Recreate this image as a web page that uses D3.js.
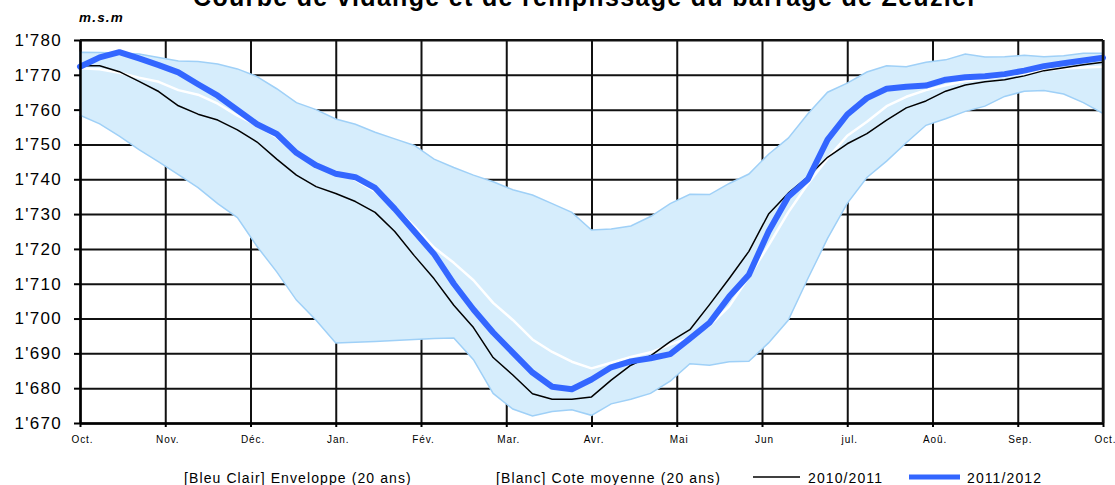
<!DOCTYPE html>
<html><head><meta charset="utf-8">
<script src="https://cdn.jsdelivr.net/npm/d3@7"></script>
<style>
body{margin:0;background:#fff}
svg{display:block;font-family:"Liberation Sans",Arial,sans-serif}
</style>
</head><body>
<svg id="c" width="1115" height="485"></svg>
<script>
// ---------- DATA ----------
const monthLabels = ["Oct.","Nov.","Déc.","Jan.","Fév.","Mar.","Avr.","Mai","Jun","jul.","Aoû.","Sep.","Oct."];
const yTicks = [1670,1680,1690,1700,1710,1720,1730,1740,1750,1760,1770,1780];
// weekly samples (53 points, Oct -> Oct)
const envUpper = [1776.5,1776.4,1776.3,1776.0,1775.0,1774.0,1773.8,1773.1,1771.7,1769.5,1766.0,1762.0,1760.0,1757.3,1755.8,1753.5,1751.6,1749.7,1745.8,1743.4,1741.2,1739.3,1737.0,1735.5,1733.0,1730.5,1725.4,1725.7,1726.6,1729.3,1733.0,1735.7,1735.6,1738.8,1741.5,1747.2,1751.8,1758.8,1765.0,1767.6,1770.8,1772.6,1772.3,1773.6,1774.3,1776.0,1775.1,1775.2,1775.6,1775.2,1775.5,1776.2,1776.2];
const envLower = [1758.4,1755.9,1752.4,1748.5,1745.0,1741.3,1737.6,1733.0,1729.0,1720.7,1713.4,1705.3,1699.5,1693.0,1693.2,1693.4,1693.7,1694.0,1694.3,1694.4,1688.2,1678.5,1674.0,1672.0,1673.3,1673.8,1672.2,1675.5,1676.8,1678.5,1682.0,1687.0,1686.6,1687.6,1687.7,1693.0,1699.5,1711.5,1723.0,1733.1,1740.5,1745.2,1750.5,1755.5,1757.4,1759.5,1761.0,1763.8,1765.3,1765.5,1764.5,1762.0,1758.9];
const meanLevel = [1771.9,1771.6,1770.6,1769.2,1768.0,1765.6,1764.3,1761.7,1758.3,1755.5,1752.0,1747.5,1743.8,1742.2,1739.8,1736.5,1732.0,1726.5,1720.4,1716.0,1711.0,1704.5,1699.6,1694.0,1690.4,1687.6,1685.7,1687.3,1689.0,1690.3,1692.5,1694.5,1698.0,1703.5,1712.0,1721.0,1730.5,1738.7,1746.0,1752.5,1756.5,1761.0,1763.7,1765.6,1767.0,1768.2,1768.9,1769.6,1770.4,1771.3,1771.8,1772.1,1772.3];
const year2010 = [1772.6,1772.6,1770.9,1768.1,1765.2,1761.1,1758.7,1757.0,1754.2,1750.7,1745.8,1741.2,1737.9,1735.9,1733.6,1730.5,1725.0,1718.0,1711.4,1703.8,1697.4,1688.8,1683.8,1678.4,1676.8,1676.8,1677.5,1682.3,1686.6,1689.3,1693.4,1696.8,1704.0,1711.5,1719.3,1730.0,1736.0,1740.7,1746.3,1750.2,1753.1,1757.0,1760.5,1762.5,1765.3,1767.1,1768.0,1768.6,1769.7,1771.2,1772.0,1772.9,1773.6];
const year2011 = [1772.3,1775.0,1776.5,1774.7,1772.8,1770.7,1767.3,1764.0,1759.9,1755.8,1753.0,1747.6,1744.0,1741.6,1740.6,1737.5,1731.5,1725.0,1718.5,1710.0,1702.6,1696.0,1690.2,1684.5,1680.4,1679.7,1682.5,1686.0,1687.7,1688.6,1689.8,1694.2,1698.8,1706.3,1712.6,1725.0,1735.0,1740.0,1751.4,1758.6,1763.3,1766.0,1766.6,1766.9,1768.6,1769.3,1769.6,1770.2,1771.2,1772.5,1773.3,1774.1,1774.9];
const legendLabels = ["[Bleu Clair] Enveloppe (20 ans)","[Blanc] Cote moyenne (20 ans)","2010/2011","2011/2012"];
const titleText = "Courbe de vidange et de remplissage du barrage de Zeuzier";
const unitLabel = "m.s.m";

// ---------- LAYOUT ----------
const L = 80, R = 1103, T = 40, B = 423;
const svg = d3.select("#c");
const nPts = year2011.length;
const x = d3.scaleLinear().domain([0, nPts - 1]).range([L, R]);
const mx = d3.scaleLinear().domain([0, monthLabels.length - 1]).range([L, R]);
const y = d3.scaleLinear().domain([1670, 1780]).range([B, T]);
const fmt = d => { const s = String(d); return s[0] + "'" + s.slice(1); };

// gridlines
const gy = svg.append("g").attr("transform", `translate(${L},0)`)
  .call(d3.axisLeft(y).tickValues(yTicks).tickSize(-(R - L)).tickFormat(""));
gy.select(".domain").remove();
gy.selectAll("line").attr("stroke", "#111").attr("stroke-width", 2);
const gx = svg.append("g").attr("transform", `translate(0,${B})`)
  .call(d3.axisBottom(mx).ticks(12).tickValues(d3.range(monthLabels.length)).tickSize(-(B - T)).tickFormat(""));
gx.select(".domain").remove();
gx.selectAll("line").attr("stroke", "#111").attr("stroke-width", 2);

// envelope
const area = d3.area().x((d, i) => x(i)).y0((d, i) => y(envLower[i])).y1(d => y(d));
svg.append("path").datum(envUpper).attr("d", area)
  .attr("fill", "#d6edfc").attr("stroke", "#9fd0f7").attr("stroke-width", 1.5);

const line = d3.line().x((d, i) => x(i)).y(d => y(d));
svg.append("path").datum(meanLevel).attr("d", line).attr("fill", "none")
  .attr("stroke", "#fff").attr("stroke-width", 2.5).attr("stroke-linejoin", "round");
svg.append("path").datum(year2010).attr("d", line).attr("fill", "none")
  .attr("stroke", "#000").attr("stroke-width", 1.5).attr("stroke-linejoin", "round");
svg.append("path").datum(year2011).attr("d", line).attr("fill", "none")
  .attr("stroke", "#3366ff").attr("stroke-width", 6).attr("stroke-linejoin", "round").attr("stroke-linecap", "round");

// axes on top
const ay = svg.append("g").attr("transform", `translate(${L},0)`)
  .call(d3.axisLeft(y).tickValues(yTicks).tickSize(6).tickSizeOuter(0).tickPadding(12).tickFormat(fmt));
ay.select(".domain").attr("stroke", "#000").attr("stroke-width", 2.5);
ay.selectAll("line").attr("stroke", "#000").attr("stroke-width", 2);
ay.selectAll("text").attr("font-size", 17).attr("letter-spacing", "1.3px").attr("fill", "#000")
  .attr("font-family", "Liberation Sans, Arial, sans-serif");

const ax = svg.append("g").attr("transform", `translate(0,${B})`)
  .call(d3.axisBottom(mx).tickValues(d3.range(monthLabels.length)).tickSize(4).tickSizeOuter(0).tickPadding(9).tickFormat(i => monthLabels[i]));
ax.select(".domain").attr("stroke", "#000").attr("stroke-width", 2.5);
ax.selectAll("line").attr("stroke", "#000").attr("stroke-width", 2);
ax.selectAll("text").attr("font-size", 10).attr("letter-spacing", "0.9px").attr("fill", "#000")
  .attr("dx", 2).attr("font-family", "Liberation Sans, Arial, sans-serif");

// top / right border
svg.append("line").attr("x1", L).attr("x2", R).attr("y1", T).attr("y2", T).attr("stroke", "#111").attr("stroke-width", 2);
svg.append("line").attr("x1", R).attr("x2", R).attr("y1", T).attr("y2", B).attr("stroke", "#111").attr("stroke-width", 2.5);

// title & unit
svg.append("text").attr("x", 585).attr("y", 6).attr("text-anchor", "middle")
  .attr("font-size", 25).attr("font-weight", "bold").attr("textLength", 784).attr("lengthAdjust", "spacing")
  .text(titleText);
svg.append("text").attr("x", 79).attr("y", 22).attr("font-size", 13.5).attr("font-weight", "bold")
  .attr("font-style", "italic").attr("letter-spacing", "1.2px").text(unitLabel);

// legend
const lg = svg.append("g").attr("font-size", 14).attr("letter-spacing", "1.1px");
lg.append("text").attr("x", 184).attr("y", 483).text(legendLabels[0]);
lg.append("text").attr("x", 496).attr("y", 483).text(legendLabels[1]);
lg.append("line").attr("x1", 753).attr("x2", 800).attr("y1", 477).attr("y2", 477).attr("stroke", "#000").attr("stroke-width", 1.5);
lg.append("text").attr("x", 808).attr("y", 483).text(legendLabels[2]);
lg.append("line").attr("x1", 909).attr("x2", 960).attr("y1", 477).attr("y2", 477).attr("stroke", "#3366ff").attr("stroke-width", 5);
lg.append("text").attr("x", 967).attr("y", 483).text(legendLabels[3]);
</script>
</body></html>
